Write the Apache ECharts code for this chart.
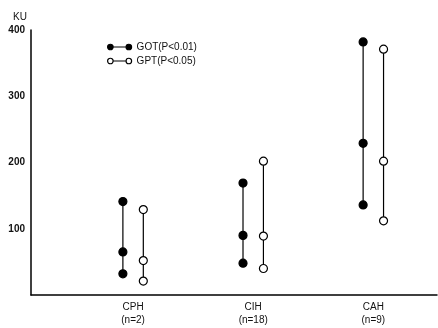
<!DOCTYPE html>
<html>
<head>
<meta charset="utf-8">
<script src="https://cdn.jsdelivr.net/npm/echarts@6/dist/echarts.min.js"></script>
<style>
  html, body { margin: 0; padding: 0; background: #fff; }
  #chart { width: 438px; height: 328px; }
</style>
</head>
<body>
<div id="chart"></div>
<script>
// groups and sample sizes
const groups = ['CPH', 'CIH', 'CAH']
const nCounts = [2, 18, 9]
// KU values per group: upper, middle, lower
const gotValues = [[141, 65, 32], [169, 90, 48], [382, 229, 136]]
const gptValues = [[129, 52, 21], [202, 89, 40], [371, 202, 112]]
const yTicks = [100, 200, 300, 400]
const gotName = 'GOT(P<0.01)'
const gptName = 'GPT(P<0.05)'

const offset = 0.085
const iconPath = 'path://M0,3 A3,3 0 1,0 6,3 A3,3 0 1,0 0,3 Z M6,3 L20,3 M20,3 A3,3 0 1,0 26,3 A3,3 0 1,0 20,3 Z'

function makeSeries(name, values, dx, filled) {
  return values.map((vals, i) => ({
    name: name,
    type: 'line',
    data: vals.map(v => [i + dx, v]),
    symbol: 'circle',
    symbolSize: 8,
    showSymbol: true,
    lineStyle: { color: '#000', width: 1.2 },
    itemStyle: {
      color: filled ? '#000' : '#fff',
      borderColor: '#000',
      borderWidth: 1.2
    },
    emphasis: { disabled: true },
    animation: false
  }))
}

const chart = echarts.init(document.getElementById('chart'))
chart.setOption({
  backgroundColor: '#fff',
  textStyle: { fontFamily: 'Liberation Sans, Arial, sans-serif', color: '#111' },
  graphic: [{
    type: 'text',
    left: 13,
    top: 12,
    style: { text: 'KU', fontSize: 10, fontFamily: 'Liberation Sans, Arial, sans-serif', fill: '#111' }
  }],
  legend: {
    orient: 'vertical',
    left: 102,
    top: 37,
    itemWidth: 24,
    itemHeight: 6,
    itemGap: 4,
    textStyle: { fontSize: 10, color: '#111' },
    data: [
      { name: gotName, icon: iconPath, itemStyle: { color: '#000', borderColor: '#000', borderWidth: 1.2 } },
      { name: gptName, icon: iconPath, itemStyle: { color: '#fff', borderColor: '#000', borderWidth: 1.2 } }
    ]
  },
  grid: { left: 31, right: 1, top: 30, bottom: 33 },
  xAxis: {
    type: 'value',
    min: -0.85,
    max: 2.53,
    splitLine: { show: false },
    axisLine: { show: true, onZero: false, lineStyle: { color: '#000', width: 1.5 } },
    axisTick: { show: false },
    axisLabel: {
      customValues: [0, 1, 2],
      fontSize: 10,
      lineHeight: 13,
      margin: 6,
      color: '#111',
      formatter: v => {
        const i = Math.round(v)
        return groups[i] + '\n(n=' + nCounts[i] + ')'
      }
    }
  },
  yAxis: {
    type: 'value',
    min: 0,
    max: 400,
    interval: 100,
    splitLine: { show: false },
    axisLine: { show: true, onZero: false, lineStyle: { color: '#000', width: 1.5 } },
    axisTick: { show: false },
    axisLabel: {
      customValues: yTicks,
      fontSize: 10,
      fontWeight: 'bold',
      margin: 6,
      color: '#111'
    }
  },
  series: [
    ...makeSeries(gotName, gotValues, -offset, true),
    ...makeSeries(gptName, gptValues, offset, false)
  ]
})
</script>
</body>
</html>
